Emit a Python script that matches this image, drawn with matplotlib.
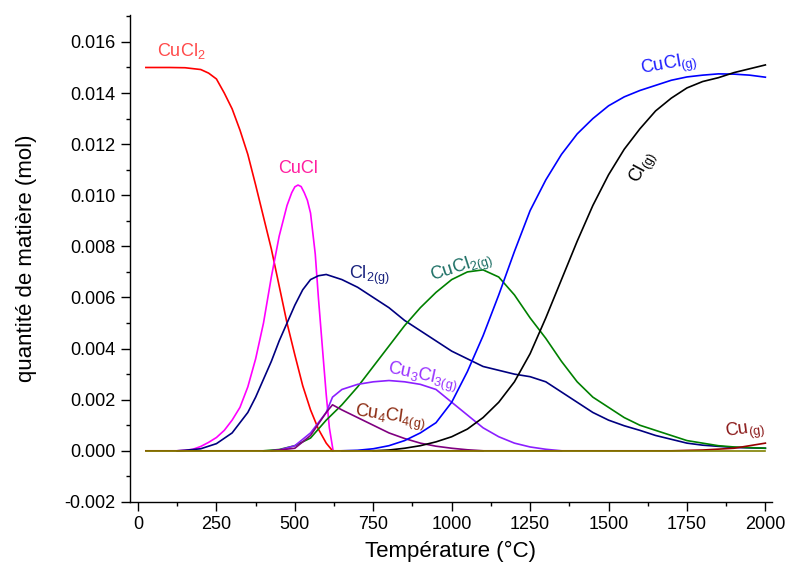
import numpy as np
import matplotlib
matplotlib.use("Agg")
import matplotlib.pyplot as plt
from matplotlib.ticker import MultipleLocator, FormatStrFormatter

plt.rcParams['font.family'] = ['Liberation Sans', 'DejaVu Sans']
plt.rcParams['mathtext.fontset'] = 'custom'
plt.rcParams['mathtext.rm'] = 'Liberation Sans'
plt.rcParams['mathtext.default'] = 'regular'

# values (T in °C, amount in mol)
t_cucl2 = [25, 100, 150, 200, 225, 250, 275, 300, 325, 350, 375, 400, 425, 450,
           475, 500, 525, 550, 575, 600, 620]
n_cucl2 = [0.01500, 0.01500, 0.01499, 0.01492, 0.01478, 0.01455, 0.01400,
           0.01338, 0.01255, 0.01160, 0.01040, 0.00915, 0.00790, 0.00645,
           0.00500, 0.00375, 0.00255, 0.00160, 0.00085, 0.00030, 0.0]

t_cucl = [125, 150, 175, 200, 225, 250, 275, 300, 325, 350, 375, 400, 425, 450,
          475, 490, 500, 510, 520, 530, 540, 550, 565, 575, 590, 600, 610, 622]
n_cucl = [0.0, 0.00002, 0.00006, 0.00017, 0.00033, 0.00052, 0.0008, 0.0012,
          0.0017, 0.0025, 0.0036, 0.0050, 0.0068, 0.0084, 0.0096, 0.0101,
          0.01033, 0.01040, 0.01034, 0.0101, 0.0098, 0.0093, 0.0077, 0.0060,
          0.0037, 0.0022, 0.0009, 0.0]

t_cl2 = [125, 150, 200, 250, 300, 350, 375, 400, 425, 450, 475, 500, 525, 550,
         575, 600, 650, 700, 750, 800, 850, 900, 950, 1000, 1050, 1100, 1150,
         1200, 1250, 1300, 1350, 1400, 1450, 1500, 1550, 1600, 1650, 1700,
         1750, 1800, 1900, 2000]
n_cl2 = [0.0, 0.00002, 0.00008, 0.00028, 0.0007, 0.0015, 0.0021, 0.0028, 0.0035,
         0.0043, 0.0050, 0.0057, 0.0063, 0.0067, 0.00685, 0.0069, 0.0067,
         0.0064, 0.0060, 0.0056, 0.0051, 0.0047, 0.0043, 0.0039, 0.0036,
         0.0033, 0.00315, 0.0030, 0.0029, 0.0027, 0.0023, 0.0019, 0.0015,
         0.0012, 0.00098, 0.0008, 0.0006, 0.00045, 0.0003, 0.00022, 0.00013,
         0.0001]

t_cucl2g = [400, 450, 500, 550, 600, 650, 700, 750, 800, 850, 900, 950, 1000,
            1050, 1100, 1150, 1200, 1250, 1300, 1350, 1400, 1450, 1500, 1550,
            1600, 1650, 1700, 1750, 1800, 1850, 1900, 2000]
n_cucl2g = [0.0, 0.00005, 0.0002, 0.0005, 0.0012, 0.0018, 0.0025, 0.0033, 0.0041,
            0.0049, 0.0056, 0.0062, 0.0067, 0.0070, 0.00708, 0.0068, 0.0061,
            0.0052, 0.0044, 0.0035, 0.0027, 0.0021, 0.0017, 0.0013, 0.0010,
            0.0008, 0.0006, 0.0004, 0.0003, 0.0002, 0.00015, 0.0001]

t_cu3cl3 = [425, 450, 500, 550, 600, 620, 650, 700, 750, 800, 850, 900, 950,
            1000, 1050, 1100, 1150, 1200, 1250, 1300, 1350]
n_cu3cl3 = [0.0, 0.00003, 0.0002, 0.0007, 0.0015, 0.0021, 0.0024, 0.0026, 0.0027,
            0.00275, 0.0027, 0.0026, 0.0024, 0.0019, 0.0014, 0.0009, 0.00055,
            0.0003, 0.00015, 0.00006, 0.0]

t_cu4cl4 = [425, 450, 500, 550, 600, 620, 650, 700, 750, 800, 850, 900, 950,
            1000, 1050, 1100]
n_cu4cl4 = [0.0, 0.00003, 0.0001, 0.0006, 0.0015, 0.0018, 0.0016, 0.0013, 0.0010,
            0.0007, 0.00048, 0.0003, 0.00018, 0.0001, 0.00004, 0.0]

t_cuclg = [650, 700, 750, 800, 850, 900, 950, 1000, 1050, 1100, 1150, 1200,
           1250, 1300, 1350, 1400, 1450, 1500, 1550, 1600, 1650, 1700, 1750,
           1800, 1850, 1900, 1950, 2000]
n_cuclg = [0.0, 0.00002, 0.00008, 0.0002, 0.0004, 0.0007, 0.0011, 0.0019,
           0.0031, 0.0045, 0.0061, 0.0078, 0.0094, 0.0106, 0.0116, 0.0124,
           0.0130, 0.0135, 0.01385, 0.0141, 0.0143, 0.0145, 0.01463, 0.0147,
           0.01475, 0.01474, 0.0147, 0.01462]

t_clg = [750, 800, 850, 900, 950, 1000, 1050, 1100, 1150, 1200, 1250, 1300,
         1350, 1400, 1450, 1500, 1550, 1600, 1650, 1700, 1750, 1800, 1850, 1900,
         1950, 2000]
n_clg = [0.0, 0.00003, 0.0001, 0.0002, 0.00035, 0.00055, 0.00085, 0.0013,
         0.0019, 0.0027, 0.0038, 0.0052, 0.0067, 0.0082, 0.0096, 0.0108,
         0.0118, 0.0126, 0.0133, 0.0138, 0.0142, 0.01445, 0.0146, 0.0148,
         0.01495, 0.0151]

t_cug = [25, 1700, 1800, 1900, 1950, 2000]
n_cug = [0.0, 0.0, 0.00003, 0.0001, 0.0002, 0.0003]

t_cu = [25, 2000]
n_cu = [0.0, 0.0]

fig = plt.figure(figsize=(7.89, 5.71), dpi=100)
ax = fig.add_axes([0.165, 0.121, 0.813, 0.853])

lw = 1.2
ax.plot(t_cucl2, n_cucl2, color='#ff0000', lw=lw)
ax.plot(t_cucl, n_cucl, color='#ff00ff', lw=lw)
ax.plot(t_cl2, n_cl2, color='#000080', lw=lw)
ax.plot(t_cucl2g, n_cucl2g, color='#008000', lw=lw)
ax.plot(t_cu3cl3, n_cu3cl3, color='#8b1fff', lw=lw)
ax.plot(t_cu4cl4, n_cu4cl4, color='#800080', lw=lw)
ax.plot(t_cuclg, n_cuclg, color='#0000ff', lw=lw)
ax.plot(t_clg, n_clg, color='#000000', lw=lw)
ax.plot(t_cug, n_cug, color='#990000', lw=lw)
ax.plot(t_cu, n_cu, color='#808000', lw=lw)

fs = 13
ax.text(60, 0.01544, 'CuCl$_2$', color='#ff4a4a', fontsize=fs, va='baseline')
ax.text(448, 0.01088, 'CuCl', color='#ff1fa0', fontsize=fs, va='baseline')
ax.text(674, 0.00673, 'Cl$_{2(g)}$', color='#1a237e', fontsize=fs, va='baseline')
ax.text(1031, 0.00716, 'CuCl$_{2(g)}$', color='#1b6e64', fontsize=fs,
        ha='center', va='center', rotation=18)
ax.text(906, 0.00288, 'Cu$_3$Cl$_{3(g)}$', color='#9933ff', fontsize=fs,
        ha='center', va='center', rotation=-12)
ax.text(802, 0.00132, 'Cu$_4$Cl$_{4(g)}$', color='#8b2a10', fontsize=fs,
        ha='center', va='center', rotation=-8)
ax.text(1693, 0.01508, 'CuCl$_{(g)}$', color='#2020ff', fontsize=fs,
        ha='center', va='center', rotation=10)
ax.text(1613, 0.01108, 'Cl$_{(g)}$', color='#000000', fontsize=fs,
        ha='center', va='center', rotation=62)
ax.text(1935, 0.0008, 'Cu$_{(g)}$', color='#8b1a1a', fontsize=fs,
        ha='center', va='center', rotation=8)

ax.set_xlim(-25, 2020)
ax.set_ylim(-0.002, 0.01706)
ax.xaxis.set_major_locator(MultipleLocator(250))
ax.xaxis.set_minor_locator(MultipleLocator(125))
ax.yaxis.set_major_locator(MultipleLocator(0.002))
ax.yaxis.set_minor_locator(MultipleLocator(0.001))
ax.yaxis.set_major_formatter(FormatStrFormatter('%.3f'))

ax.spines['top'].set_visible(False)
ax.spines['right'].set_visible(False)
for s in ['left', 'bottom']:
    ax.spines[s].set_linewidth(1.0)
ax.tick_params(which='major', direction='out', length=6.5, width=1.0,
               labelsize=13, pad=4)
ax.tick_params(which='minor', direction='out', length=3.2, width=1.0)

ax.set_xlabel('Température (°C)', fontsize=16, labelpad=5)
ax.set_ylabel('quantité de matière (mol)', fontsize=16, labelpad=20)

fig.savefig('out.png', dpi=100)
